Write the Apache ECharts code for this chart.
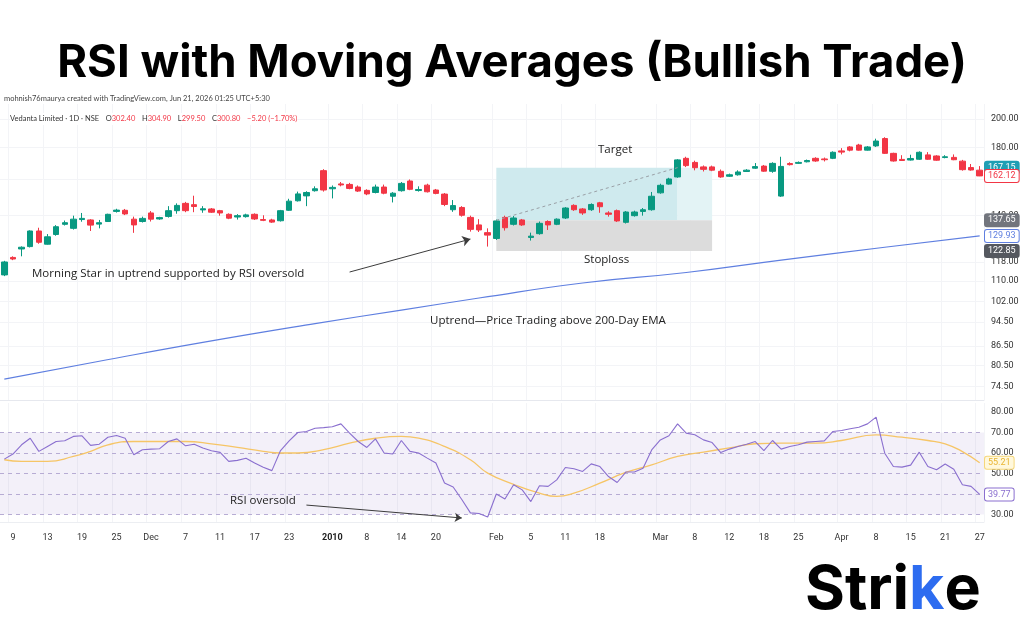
<!DOCTYPE html>
<html>
<head>
<meta charset="utf-8">
<script src="https://cdn.jsdelivr.net/npm/echarts@6/dist/echarts.min.js"></script>
<style>
html, body { margin: 0; padding: 0; background: #fff; }
#chart { width: 1024px; height: 640px; }
</style>
</head>
<body>
<div id="chart"></div>
<script>
// trading days, Nov 6 2009 .. Apr 27 2010
const dates = [
  '2009-11-06','2009-11-09','2009-11-10','2009-11-11','2009-11-12','2009-11-13',
  '2009-11-16','2009-11-17','2009-11-18','2009-11-19','2009-11-20',
  '2009-11-23','2009-11-24','2009-11-25','2009-11-26','2009-11-27',
  '2009-11-30','2009-12-01','2009-12-02','2009-12-03','2009-12-04',
  '2009-12-07','2009-12-08','2009-12-09','2009-12-10','2009-12-11',
  '2009-12-14','2009-12-15','2009-12-16','2009-12-17','2009-12-18',
  '2009-12-21','2009-12-22','2009-12-23','2009-12-24','2009-12-29','2009-12-30','2009-12-31',
  '2010-01-04','2010-01-05','2010-01-06','2010-01-07','2010-01-08',
  '2010-01-11','2010-01-12','2010-01-13','2010-01-14','2010-01-15',
  '2010-01-18','2010-01-19','2010-01-20','2010-01-21','2010-01-22',
  '2010-01-25','2010-01-27','2010-01-28','2010-01-29',
  '2010-02-01','2010-02-02','2010-02-03','2010-02-04','2010-02-05',
  '2010-02-08','2010-02-09','2010-02-10','2010-02-11',
  '2010-02-15','2010-02-16','2010-02-17','2010-02-18','2010-02-19',
  '2010-02-22','2010-02-23','2010-02-24','2010-02-25','2010-02-26',
  '2010-03-02','2010-03-03','2010-03-04','2010-03-05',
  '2010-03-08','2010-03-09','2010-03-10','2010-03-11','2010-03-12',
  '2010-03-15','2010-03-16','2010-03-17','2010-03-18','2010-03-19',
  '2010-03-22','2010-03-23','2010-03-25','2010-03-26',
  '2010-03-29','2010-03-30','2010-03-31','2010-04-01',
  '2010-04-05','2010-04-06','2010-04-07','2010-04-08','2010-04-09',
  '2010-04-12','2010-04-13','2010-04-15','2010-04-16',
  '2010-04-19','2010-04-20','2010-04-21','2010-04-22','2010-04-23',
  '2010-04-26','2010-04-27'
];

// x axis tick labels
const tickText = {
  '2009-11-09': '9', '2009-11-13': '13', '2009-11-19': '19', '2009-11-25': '25',
  '2009-12-01': 'Dec', '2009-12-07': '7', '2009-12-11': '11', '2009-12-17': '17',
  '2009-12-23': '23', '2010-01-04': '2010', '2010-01-08': '8', '2010-01-14': '14',
  '2010-01-20': '20', '2010-02-01': 'Feb', '2010-02-05': '5', '2010-02-11': '11',
  '2010-02-18': '18', '2010-03-02': 'Mar', '2010-03-08': '8', '2010-03-12': '12',
  '2010-03-18': '18', '2010-03-25': '25', '2010-04-01': 'Apr', '2010-04-08': '8',
  '2010-04-15': '15', '2010-04-21': '21', '2010-04-27': '27'
};

const open = [
  112.5, 120.0, 123.8, 124.9, 132.3, 126.0, 130.6, 135.6, 133.6, 138.0,
  137.8, 135.7, 137.0, 142.2, 142.8, 138.2, 137.0, 141.4, 138.3, 139.6,
  142.6, 146.5, 145.8, 143.0, 143.5, 142.6, 140.7, 139.3, 139.5, 140.7,
  138.0, 137.8, 137.4, 142.8, 147.9, 150.6, 153.5, 165.3, 154.6, 157.4,
  157.1, 155.6, 153.7, 152.5, 155.6, 150.4, 153.5, 159.1, 153.6, 156.7,
  153.9, 151.6, 143.1, 144.3, 139.1, 135.3, 131.5, 128.7, 139.1, 135.6,
  137.8, 129.2, 131.0, 137.0, 135.6, 138.8, 145.4, 143.5, 143.1, 146.8,
  141.4, 142.6, 136.6, 140.0, 142.2, 143.1, 152.3, 157.3, 161.5, 173.0,
  170.4, 167.6, 167.6, 164.9, 161.9, 162.8, 164.8, 166.8, 168.1, 164.9,
  150.5, 169.7, 169.8, 170.8, 173.0, 172.6, 173.0, 177.8, 180.4, 181.7,
  178.3, 181.1, 186.1, 176.2, 172.3, 171.9, 172.4, 175.2, 174.5, 173.5,
  173.6, 171.2, 167.2, 165.6
];
const high = [
  118.5, 120.5, 125.0, 132.6, 133.9, 130.8, 135.2, 137.5, 140.0, 141.4,
  138.2, 137.8, 141.0, 143.6, 143.5, 139.5, 139.5, 142.4, 139.4, 145.0,
  146.5, 147.3, 150.7, 145.0, 144.0, 143.0, 141.2, 140.8, 141.0, 141.2,
  140.2, 138.4, 143.0, 149.0, 153.0, 153.2, 156.0, 166.2, 156.5, 158.5,
  158.0, 156.5, 154.3, 157.0, 157.0, 152.7, 158.5, 160.0, 156.0, 157.5,
  154.5, 152.2, 148.3, 145.0, 140.0, 138.2, 133.6, 138.0, 140.0, 139.8,
  138.3, 131.5, 137.0, 137.6, 138.6, 144.5, 146.0, 144.0, 146.5, 147.3,
  142.3, 143.2, 142.4, 142.6, 144.0, 152.8, 157.5, 161.0, 172.5, 174.0,
  171.5, 168.5, 168.4, 166.0, 163.5, 165.5, 166.2, 170.0, 168.8, 170.5,
  174.0, 170.5, 171.0, 172.2, 173.7, 173.5, 177.5, 179.6, 181.0, 182.5,
  181.0, 186.0, 187.0, 176.6, 175.0, 175.3, 177.5, 177.0, 175.0, 175.0,
  175.5, 172.0, 169.4, 168.1
];
const low = [
  112.0, 118.8, 120.5, 124.5, 126.2, 125.8, 130.0, 135.0, 133.0, 136.9,
  132.3, 133.6, 136.8, 141.6, 140.3, 131.4, 136.5, 137.0, 137.9, 139.0,
  141.0, 141.8, 141.8, 141.5, 141.4, 140.0, 138.2, 138.0, 139.0, 137.8,
  137.2, 136.3, 137.0, 142.5, 147.5, 145.0, 153.0, 153.0, 149.2, 156.0,
  154.3, 152.8, 151.0, 152.0, 151.5, 147.0, 153.0, 153.8, 153.0, 152.5,
  151.5, 145.0, 142.0, 139.5, 132.0, 131.8, 124.9, 128.0, 132.5, 135.0,
  134.8, 127.7, 130.5, 132.8, 135.2, 138.3, 142.5, 140.4, 142.5, 141.5,
  139.5, 136.8, 136.0, 139.5, 140.0, 142.6, 151.8, 157.0, 161.0, 167.5,
  165.5, 164.8, 165.0, 161.0, 161.5, 162.3, 164.5, 166.4, 164.6, 164.0,
  150.0, 168.5, 169.5, 170.4, 170.8, 171.0, 172.5, 175.5, 177.5, 178.0,
  178.0, 180.4, 175.8, 170.9, 171.3, 171.6, 172.0, 172.0, 171.4, 173.0,
  171.8, 165.3, 165.3, 162.0
];
const close = [
  118.0, 119.3, 124.6, 132.3, 126.9, 129.5, 134.4, 136.4, 138.2, 138.6,
  135.2, 136.4, 140.7, 142.9, 140.9, 135.3, 138.6, 138.2, 139.0, 142.6,
  145.4, 142.6, 144.8, 143.6, 141.8, 141.4, 138.7, 140.0, 140.4, 138.3,
  137.6, 136.7, 142.6, 147.7, 151.7, 152.5, 154.6, 153.9, 155.4, 156.8,
  154.8, 153.3, 151.7, 155.6, 152.1, 152.1, 157.7, 154.3, 154.2, 152.9,
  152.0, 145.9, 145.3, 140.2, 133.1, 132.8, 130.3, 137.3, 133.9, 138.8,
  135.3, 129.8, 136.1, 135.3, 138.2, 144.0, 143.1, 141.4, 145.9, 144.7,
  140.7, 137.3, 141.9, 141.9, 143.1, 150.4, 156.6, 160.3, 172.0, 168.4,
  167.1, 166.1, 165.6, 161.5, 162.8, 164.5, 165.6, 167.8, 165.0, 169.8,
  167.9, 169.0, 170.4, 171.6, 171.3, 172.1, 176.9, 177.0, 178.3, 178.3,
  180.4, 184.4, 176.2, 171.3, 171.6, 172.9, 176.9, 172.4, 171.8, 174.0,
  172.1, 165.9, 165.7, 162.12
];

// 200-day EMA, read at a few bars
const emaIdx = [0, 11, 23, 36, 46, 55, 67, 79, 90, 102, 113];
const emaVal = [76.6, 81.8, 87.7, 94.0, 98.8, 103.3, 109.2, 113.5, 118.8, 124.6, 129.93];

const rsi = [
  57.0, 59.5, 64.0, 67.2, 60.8, 63.2, 65.6, 66.0, 68.1, 68.4,
  63.7, 64.3, 67.7, 68.5, 67.2, 59.1, 61.6, 61.9, 62.1, 65.6,
  66.9, 63.5, 64.3, 62.4, 61.1, 60.3, 55.9, 56.4, 57.4, 55.1,
  53.0, 51.4, 61.2, 65.9, 70.0, 70.5, 72.1, 72.4, 72.8, 74.2,
  69.7, 65.6, 62.7, 66.9, 60.0, 59.5, 66.1, 60.8, 60.0, 57.5,
  55.1, 45.4, 43.4, 37.3, 30.8, 30.5, 28.8, 40.0, 37.6, 44.5,
  42.0, 36.3, 44.0, 43.7, 46.9, 52.9, 52.3, 51.0, 54.7, 53.4,
  48.5, 45.6, 50.7, 50.7, 52.6, 61.5, 66.4, 68.4, 74.2, 69.7,
  68.9, 66.4, 65.1, 60.2, 61.9, 63.2, 64.3, 65.6, 61.2, 66.1,
  61.9, 63.2, 64.0, 65.3, 65.6, 65.9, 70.5, 71.0, 71.8, 72.6,
  74.2, 77.5, 59.9, 53.4, 53.1, 54.1, 60.4, 53.4, 51.8, 54.6,
  52.1, 44.5, 43.7, 39.77
];

// RSI moving average, read at a few bars
const rsiMaIdx = [0, 2, 5, 8, 10, 12, 15, 18, 21, 24, 27, 30, 32, 34, 37, 40, 43, 46, 48, 51,
  54, 56, 59, 62, 64, 66, 69, 72, 75, 78, 81, 84, 87, 90, 94, 97, 101, 104, 107, 109, 111, 113];
const rsiMaVal = [56.7, 55.9, 55.9, 58.3, 60.8, 64.0, 65.6, 65.6, 65.6, 64.5, 62.7, 60.8, 60.0, 60.0, 61.6, 64.8, 67.2, 68.1, 67.2, 63.2,
  56.7, 50.2, 44.7, 40.4, 38.8, 40.4, 45.3, 50.5, 54.2, 58.3, 60.4, 62.5, 64.5, 64.8, 64.8, 66.1, 68.8, 67.7, 66.1, 64.5, 60.7, 55.21];

const priceTicks = [200, 180, 160, 140, 118, 110, 102, 94.5, 86.5, 80.5, 74.5];
const rsiTicks = [30, 40, 50, 60, 70, 80];
const rsiLevels = [30, 40, 50, 60, 70];

// long position tool
const entryIdx = 57, targetHitIdx = 78, toolEndIdx = 82;
const entryPrice = 137.65, targetPrice = 167.15, stopPrice = 122.85;
const lastClose = 162.12, emaLast = 129.93, rsiLast = 39.77, rsiMaLast = 55.21;

const UP = '#089981', DOWN = '#f23645';
const isTick = (i, v) => tickText[v] !== undefined;

const chart = echarts.init(document.getElementById('chart'));

function tag(value, bg, fg, border) {
  return {
    yAxis: value,
    lineStyle: { color: 'rgba(0,0,0,0)', width: 0 },
    label: {
      show: true, position: 'end', distance: 1,
      formatter: value.toFixed(2),
      backgroundColor: bg, color: fg,
      borderColor: border || bg, borderWidth: 1, borderRadius: 2,
      padding: [2, 3, 1, 3], fontSize: 9, fontFamily: 'Roboto'
    }
  };
}

const option = {
  animation: false,
  backgroundColor: '#fff',
  textStyle: { fontFamily: 'Roboto' },
  grid: [
    { left: 0, right: 40, top: 104, height: 296 },
    { left: 0, right: 40, top: 403, height: 119 }
  ],
  xAxis: [
    {
      type: 'category', gridIndex: 0, data: dates, boundaryGap: true,
      axisLabel: { show: false }, axisTick: { show: false },
      axisLine: { show: true, lineStyle: { color: '#e6e8ee' } },
      splitLine: { show: true, interval: isTick, lineStyle: { color: '#f3f4f7' } }
    },
    {
      type: 'category', gridIndex: 1, data: dates, boundaryGap: true,
      axisTick: { show: false },
      axisLine: { show: true, lineStyle: { color: '#eceef2' } },
      splitLine: { show: true, interval: isTick, lineStyle: { color: '#f3f4f7' } },
      axisLabel: {
        interval: isTick, margin: 11, fontSize: 9, color: '#333',
        formatter: v => tickText[v] === '2010' ? '{b|2010}' : (tickText[v] || ''),
        rich: { b: { fontWeight: 'bold', fontSize: 9, color: '#222' } }
      }
    }
  ],
  yAxis: [
    {
      type: 'log', gridIndex: 0, position: 'right', min: 70.9, max: 211.4,
      axisLine: { show: false }, axisTick: { show: false },
      axisLabel: { show: false }, splitLine: { show: false }
    },
    {
      type: 'value', gridIndex: 1, position: 'right', min: 26.34, max: 84.39,
      axisLine: { show: false }, axisTick: { show: false },
      splitLine: { show: false },
      axisLabel: {
        customValues: rsiTicks, formatter: v => v.toFixed(2),
        fontSize: 9, color: '#333', margin: 7
      }
    }
  ],
  series: [
    {
      name: 'EMA 200', type: 'line', xAxisIndex: 0, yAxisIndex: 0, z: 1,
      data: emaIdx.map((d, k) => [d, emaVal[k]]),
      smooth: true, symbol: 'none',
      lineStyle: { color: '#5f7fe0', width: 1.2 },
      // price scale labels and horizontal grid
      markLine: {
        z: 0, silent: true, symbol: 'none',
        lineStyle: { color: '#f3f4f7', type: 'solid', width: 1 },
        label: {
          position: 'end', distance: 7, fontSize: 9, color: '#333',
          formatter: p => p.value.toFixed(2)
        },
        data: priceTicks.map(v => ({ yAxis: v }))
      }
    },
    {
      name: 'Vedanta', type: 'candlestick', xAxisIndex: 0, yAxisIndex: 0, z: 3,
      data: dates.map((d, i) => [open[i], close[i], low[i], high[i]]),
      barWidth: '68%',
      itemStyle: { color: UP, color0: DOWN, borderColor: UP, borderColor0: DOWN, borderWidth: 1 },
      markArea: {
        silent: true,
        data: [
          [{ coord: [entryIdx, entryPrice], itemStyle: { color: '#cfeaee' } }, { coord: [targetHitIdx, targetPrice] }],
          [{ coord: [targetHitIdx, entryPrice], itemStyle: { color: '#e3f3f5' } }, { coord: [toolEndIdx, targetPrice] }],
          [{ coord: [entryIdx, stopPrice], itemStyle: { color: '#dcdcdc' } }, { coord: [toolEndIdx, entryPrice] }]
        ]
      },
      markLine: {
        z: 6, silent: true, symbol: 'none',
        data: [
          [
            { coord: [entryIdx, entryPrice], lineStyle: { color: '#9aa0a6', type: [3, 3], width: 1 }, label: { show: false } },
            { coord: [targetHitIdx, targetPrice] }
          ],
          tag(targetPrice, '#1f9fb4', '#fff'),
          tag(lastClose, '#fff', DOWN, DOWN),
          tag(entryPrice, '#72757d', '#fff'),
          tag(emaLast, '#fff', '#5f7fe0', '#5f7fe0'),
          tag(stopPrice, '#55585f', '#fff')
        ]
      }
    },
    {
      name: 'note arrow', type: 'line', xAxisIndex: 0, yAxisIndex: 0, data: [],
      markLine: {
        silent: true, symbol: ['none', 'arrow'], symbolSize: 8,
        lineStyle: { color: '#3c3c3c', width: 1, type: 'solid' },
        label: { show: false },
        data: [[{ coord: [40, 113.7] }, { coord: [54, 128.4] }]]
      }
    },
    {
      name: 'RSI', type: 'line', xAxisIndex: 1, yAxisIndex: 1, z: 3,
      data: rsi, symbol: 'none',
      lineStyle: { color: '#8a6fcf', width: 1.1 },
      markArea: {
        silent: true,
        itemStyle: { color: 'rgba(126, 87, 194, 0.09)' },
        data: [[{ yAxis: 30 }, { yAxis: 70 }]]
      },
      markLine: {
        z: 1, silent: true, symbol: 'none',
        lineStyle: { color: '#b7acd4', type: [4, 4], width: 1 },
        label: { show: false },
        data: rsiLevels.map(v => ({ yAxis: v }))
      }
    },
    {
      name: 'RSI MA', type: 'line', xAxisIndex: 1, yAxisIndex: 1, z: 2,
      data: rsiMaIdx.map((d, k) => [d, rsiMaVal[k]]),
      smooth: true, symbol: 'none',
      lineStyle: { color: '#f6c566', width: 1.3 },
      markLine: {
        z: 6, silent: true, symbol: 'none',
        data: [
          tag(rsiMaLast, '#fff8dc', '#eab532', '#f6d77a'),
          tag(rsiLast, '#fff', '#8a6fcf', '#8a6fcf')
        ]
      }
    },
    {
      name: 'rsi arrow', type: 'line', xAxisIndex: 1, yAxisIndex: 1, data: [],
      markLine: {
        silent: true, symbol: ['none', 'arrow'], symbolSize: 7,
        lineStyle: { color: '#3c3c3c', width: 1, type: 'solid' },
        label: { show: false },
        data: [[{ coord: [35, 34.6] }, { coord: [53, 28.3] }]]
      }
    }
  ],
  graphic: [
    {
      type: 'text', left: 'center', top: 40, z: 100,
      style: {
        text: 'RSI with Moving Averages (Bullish Trade)',
        font: 'bold 45.5px Inter', fill: '#000'
      }
    },
    {
      type: 'text', left: 4, top: 95, z: 100,
      style: {
        text: 'mohnish76maurya created with TradingView.com, Jun 21, 2026 01:25 UTC+5:30',
        font: '7.5px Lato', fill: '#444'
      }
    },
    {
      type: 'text', left: 10, top: 113, z: 100,
      style: {
        text: '{d|Vedanta Limited · 1D · NSE}  {d|O}{r|302.40}  {d|H}{r|304.90}  {d|L}{r|299.50}  {d|C}{r|300.80}  {r|−5.20 (−1.70%)}',
        backgroundColor: '#fff',
        rich: {
          d: { font: '7.5px Lato', fill: '#333' },
          r: { font: '7.5px Lato', fill: '#f23645' }
        }
      }
    },
    {
      type: 'text', left: 32, top: 268, z: 100,
      style: { text: 'Morning Star in uptrend supported by RSI oversold', font: '11.5px "Open Sans"', fill: '#222' }
    },
    {
      type: 'text', left: 430, top: 315, z: 100,
      style: { text: 'Uptrend—Price Trading above 200-Day EMA', font: '11.5px "Open Sans"', fill: '#222' }
    },
    {
      type: 'text', left: 598, top: 144, z: 100,
      style: { text: 'Target', font: '11.5px "Open Sans"', fill: '#222' }
    },
    {
      type: 'text', left: 584, top: 254, z: 100,
      style: { text: 'Stoploss', font: '11.5px "Open Sans"', fill: '#222' }
    },
    {
      type: 'text', left: 230, top: 495, z: 100,
      style: { text: 'RSI oversold', font: '11.5px "Open Sans"', fill: '#222' }
    },
    {
      type: 'text', left: 805, top: 560, z: 100,
      style: {
        text: '{a|Stri}{b|k}{a|e}',
        rich: {
          a: { font: 'bold 61px Inter', fill: '#000' },
          b: { font: 'bold 61px Inter', fill: '#2d6cf0' }
        }
      }
    }
  ]
};

chart.setOption(option);
</script>
</body>
</html>
